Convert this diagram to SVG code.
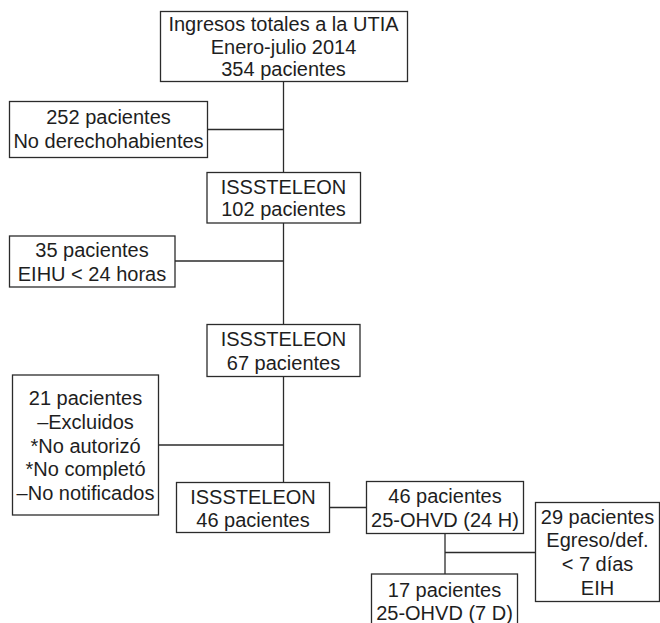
<svg xmlns="http://www.w3.org/2000/svg" width="660" height="623" viewBox="0 0 660 623">
<style>
rect{fill:#fff;stroke:#2b2b2b;stroke-width:1.3}
line{stroke:#2b2b2b;stroke-width:1.3}
text{font-family:"Liberation Sans",Arial,sans-serif;font-size:20px;fill:#1e1e1e;text-anchor:middle}
</style>
<rect x="0" y="0" width="660" height="623" style="stroke:none"/>
<g id="connectors">
<line x1="283.5" y1="81" x2="283.5" y2="172.5"/>
<line x1="207" y1="129.5" x2="283.5" y2="129.5"/>
<line x1="283.5" y1="223" x2="283.5" y2="324.5"/>
<line x1="175" y1="261" x2="283.5" y2="261"/>
<line x1="283.5" y1="376.5" x2="283.5" y2="482.5"/>
<line x1="158.5" y1="445" x2="283.5" y2="445"/>
<line x1="329.5" y1="507.5" x2="366.5" y2="507.5"/>
<line x1="445" y1="533.5" x2="445" y2="574"/>
<line x1="445" y1="552.5" x2="535.5" y2="552.5"/>
</g>
<g id="n1"><rect x="160.5" y="11.5" width="247" height="70"/>
<text x="283.5" y="31">Ingresos totales a la UTIA</text>
<text x="283.5" y="54">Enero-julio 2014</text>
<text x="283.5" y="76">354 pacientes</text></g>
<g id="n2"><rect x="9.5" y="101.5" width="198" height="56"/>
<text x="108.5" y="124">252 pacientes</text>
<text x="108.5" y="148">No derechohabientes</text></g>
<g id="n3"><rect x="207" y="172.5" width="153.5" height="50.5"/>
<text x="283.5" y="194">ISSSTELEON</text>
<text x="283.5" y="216">102 pacientes</text></g>
<g id="n4"><rect x="9.5" y="236" width="165.5" height="51"/>
<text x="92" y="257">35 pacientes</text>
<text x="92" y="281">EIHU &lt; 24 horas</text></g>
<g id="n5"><rect x="207" y="324.5" width="153" height="52"/>
<text x="283.5" y="346">ISSSTELEON</text>
<text x="283.5" y="370">67 pacientes</text></g>
<g id="n6"><rect x="12.5" y="375" width="146" height="140"/>
<text x="85.5" y="405">21 pacientes</text>
<text x="85.5" y="428.5">–Excluidos</text>
<text x="85.5" y="452.5">*No autorizó</text>
<text x="85.5" y="476">*No completó</text>
<text x="85.5" y="500">–No notificados</text></g>
<g id="n7"><rect x="176.5" y="482.5" width="153" height="50"/>
<text x="253" y="503.5">ISSSTELEON</text>
<text x="253" y="527">46 pacientes</text></g>
<g id="n8"><rect x="366.5" y="481.5" width="157" height="52"/>
<text x="445" y="503">46 pacientes</text>
<text x="445" y="527">25-OHVD (24 H)</text></g>
<g id="n9"><rect x="535.5" y="502.5" width="124" height="99"/>
<text x="597.5" y="523.5">29 pacientes</text>
<text x="597.5" y="547">Egreso/def.</text>
<text x="597.5" y="571">&lt; 7 días</text>
<text x="597.5" y="595">EIH</text></g>
<g id="n10"><rect x="371.5" y="574" width="146" height="60"/>
<text x="444.5" y="597">17 pacientes</text>
<text x="444.5" y="619.5">25-OHVD (7 D)</text></g>
</svg>
